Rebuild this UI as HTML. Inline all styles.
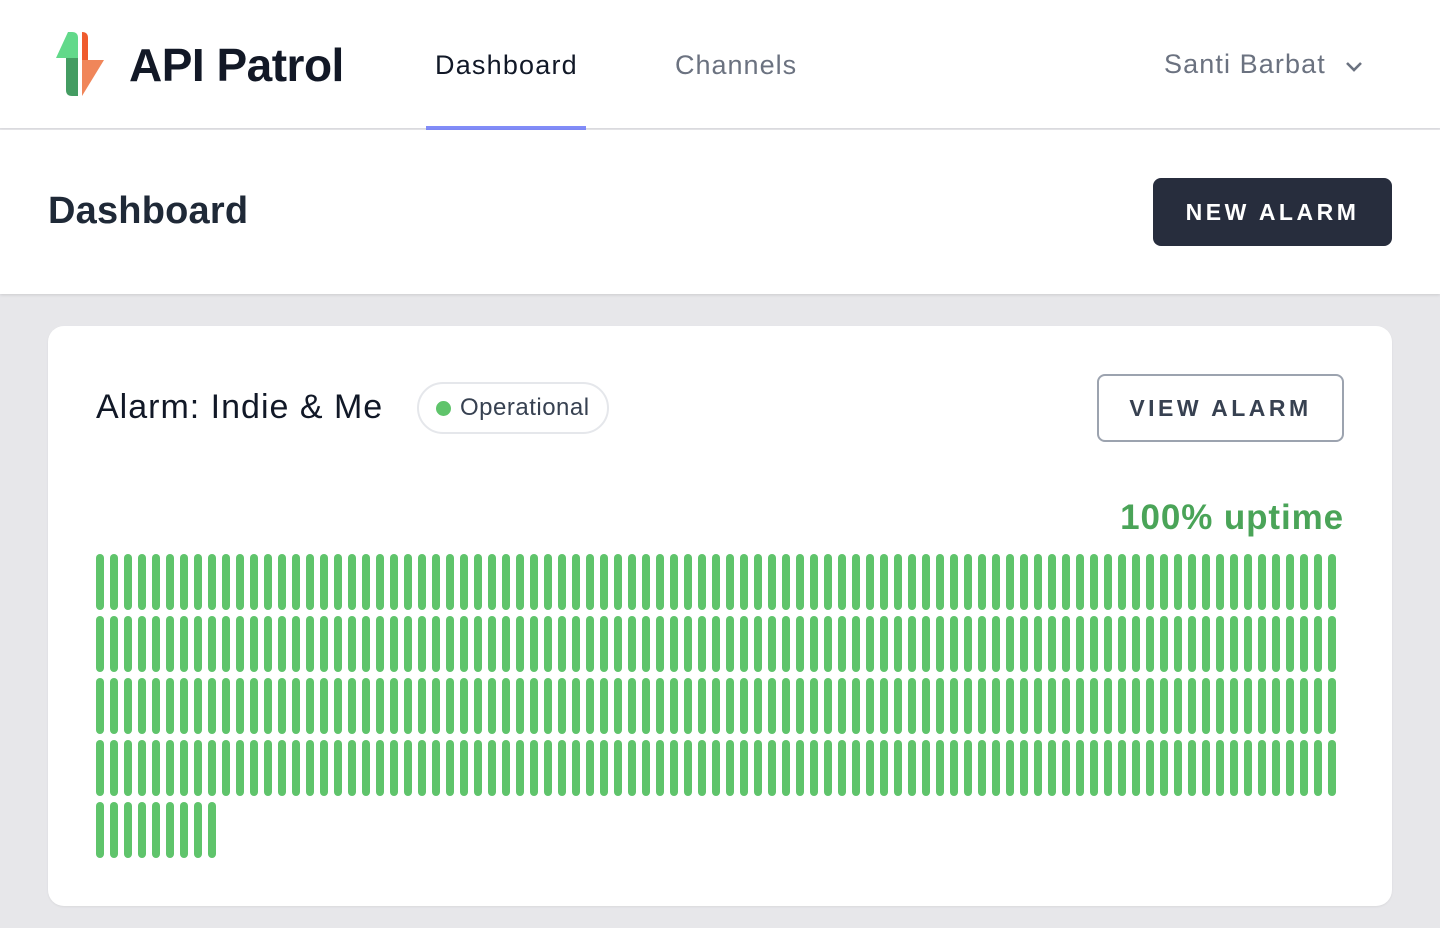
<!DOCTYPE html>
<html><head><meta charset="utf-8">
<style>
*{box-sizing:border-box;margin:0;padding:0}
body{width:1440px;height:928px;background:#e7e7ea;font-family:"Liberation Sans",sans-serif;position:relative;overflow:hidden}
.nav{position:absolute;left:0;top:0;width:1440px;height:129px;background:#fff;border-bottom:1px solid #dcdce0}
.brand{position:absolute;left:129px;top:38px;font-size:46px;font-weight:bold;color:#121826;letter-spacing:-0.5px}
.tab{position:absolute;top:50px;font-size:27px}
.user{position:absolute;left:1164px;top:49px;font-size:27px;color:#6b7280;letter-spacing:1.1px}
.sub{position:absolute;left:0;top:130px;width:1440px;height:164px;background:#fff;box-shadow:0 1px 3px rgba(0,0,0,.12)}
.h1{position:absolute;left:48px;top:60px;font-size:38px;font-weight:bold;color:#1f2937;letter-spacing:0.2px}
.newbtn{position:absolute;left:1153px;top:48px;width:239px;height:68px;background:#272d3d;border-radius:8px;color:#fff;font-size:23px;font-weight:bold;letter-spacing:3.5px;text-align:center;line-height:68px}
.card{position:absolute;left:48px;top:326px;width:1344px;height:580px;background:#fff;border-radius:16px;box-shadow:0 1px 2px rgba(0,0,0,.06)}
.title{position:absolute;left:48px;top:62px;font-size:34px;color:#111827;letter-spacing:1px}
.pill{position:absolute;left:369px;top:56px;width:192px;height:52px;border:2px solid #e5e7eb;border-radius:26px;font-size:24px;color:#374151;line-height:48px;padding-left:41px;letter-spacing:0.5px}
.dot{position:absolute;left:17px;top:17px;width:15px;height:15px;border-radius:50%;background:#5fc46b}
.viewbtn{position:absolute;left:1049px;top:48px;width:247px;height:68px;border:2px solid #9ca3af;border-radius:8px;color:#374151;font-size:23px;font-weight:bold;letter-spacing:3.5px;text-align:center;line-height:64px}
.uptime{position:absolute;right:48px;top:172px;font-size:35px;font-weight:bold;color:#4aa458;letter-spacing:0.9px}
</style></head><body>
<div class="nav">
  <svg style="position:absolute;left:54px;top:30px" width="52" height="68" viewBox="0 0 52 68">
    <path d="M2,28 L24,28 L24,66 L18,66 Q12,66 12,60 L12,28 Z" fill="#449c62"/>
    <path d="M14,2 L18,2 Q24,2 24,8 L24,28 L2,28 Z" fill="#62d98a"/>
    <path d="M28,2 Q34,2 34,8 L34,30 L28,30 Z" fill="#ef5b2e"/>
    <path d="M28,30 L50,30 L28,66 Z" fill="#f0865a"/>
  </svg>
  <div class="brand">API Patrol</div>
  <div class="tab" style="left:435px;color:#111827;letter-spacing:1.2px">Dashboard</div>
  <div style="position:absolute;left:426px;top:126px;width:160px;height:4px;background:#818cf8"></div>
  <div class="tab" style="left:675px;color:#6b7280;letter-spacing:1px">Channels</div>
  <div class="user">Santi Barbat <svg width="20" height="14" viewBox="0 0 20 14" style="margin-left:10px;vertical-align:middle"><path d="M3,4 L10,11 L17,4" stroke="#6b7280" stroke-width="2.6" fill="none"/></svg></div>
</div>
<div class="sub">
  <div class="h1">Dashboard</div>
  <div class="newbtn">NEW ALARM</div>
</div>
<div class="card">
  <div class="title">Alarm: Indie &amp; Me</div>
  <div class="pill"><span class="dot"></span>Operational</div>
  <div class="viewbtn">VIEW ALARM</div>
  <div class="uptime">100% uptime</div>
  <svg id="bars" style="position:absolute;left:48px;top:228px" width="1248" height="304"></svg>
</div>
<script>
// daily uptime status: 1 = operational
const dayStatus = ("11111111111111111111111111111111111111111111111111111111111111111111111111111111111111111" +
 "11111111111111111111111111111111111111111111111111111111111111111111111111111111111111111" +
 "11111111111111111111111111111111111111111111111111111111111111111111111111111111111111111" +
 "11111111111111111111111111111111111111111111111111111111111111111111111111111111111111111" +
 "111111111").split("").map(Number);
const statusColors = ["#ef4444", "#5fc46b"];
const perRow = 89;
const svg = document.getElementById('bars');
const ns = 'http://www.w3.org/2000/svg';
function xPos(i){return (i % perRow) * 14;}
function yPos(i){return Math.floor(i / perRow) * 62;}
dayStatus.forEach((s, i) => {
  const r = document.createElementNS(ns, 'rect');
  r.setAttribute('x', xPos(i));
  r.setAttribute('y', yPos(i));
  r.setAttribute('width', 8);
  r.setAttribute('height', 56);
  r.setAttribute('rx', 4);
  r.setAttribute('fill', statusColors[s]);
  
  
  svg.appendChild(r);
});
</script>
</body></html>
